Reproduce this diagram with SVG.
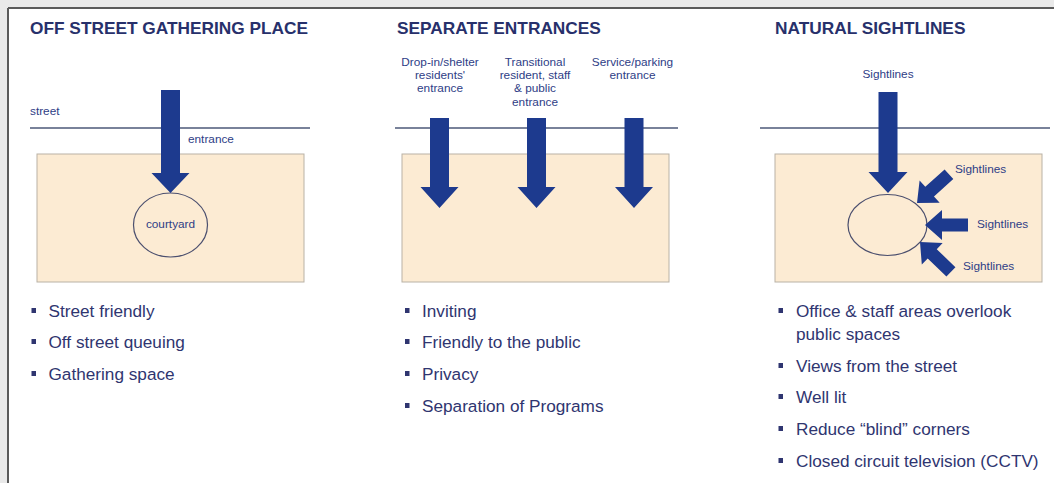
<svg xmlns="http://www.w3.org/2000/svg" width="1054" height="483" viewBox="0 0 1054 483">
<defs>
<style>
.title{font-family:"Liberation Sans",Arial,sans-serif;font-weight:bold;font-size:17.3px;fill:#27306b}
.lbl{font-family:"Liberation Sans",Arial,sans-serif;font-size:11.8px;fill:#2e3d86}
.lblc{font-family:"Liberation Sans",Arial,sans-serif;font-size:11.8px;fill:#2e3d86;text-anchor:middle}
.bul{font-family:"Liberation Sans",Arial,sans-serif;font-size:17.2px;fill:#2f3570}
.street{stroke:#4d5878;stroke-width:1.4;fill:none}
.site{fill:#fcebd3;stroke:#b9b2a6;stroke-width:1}
.arrow{fill:#1d3a8e}
.oval{fill:none;stroke:#4b4f6e;stroke-width:1.2}
.sq{fill:#2f3570}
</style>
<path id="small" d="M -43,-6.5 L -17,-6.5 L -17,-15 L 0,0 L -17,15 L -17,6.5 L -43,6.5 Z"/>
</defs>
<rect x="0" y="0" width="1054" height="483" fill="#e9e9e9"/>
<rect x="9" y="9" width="1045" height="474" fill="#ffffff"/>
<line x1="8" y1="8" x2="1054" y2="8" stroke="#5a5a5a" stroke-width="2"/>
<line x1="8" y1="8" x2="8" y2="483" stroke="#5a5a5a" stroke-width="2"/>

<g id="panel-gathering">
<text class="title" x="30" y="34">OFF STREET GATHERING PLACE</text>
<line class="street" x1="30" y1="128" x2="310" y2="128"/>
<text class="lbl" x="30" y="115">street</text>
<rect class="site" x="37" y="154" width="267" height="128"/>
<text class="lbl" x="188" y="143">entrance</text>
<ellipse class="oval" cx="170.5" cy="225" rx="37" ry="32"/>
<text class="lblc" x="170.5" y="228">courtyard</text>
<rect class="sq" x="31.5" y="308" width="4.5" height="5"/>
<text class="bul" x="48.5" y="317">Street friendly</text>
<rect class="sq" x="31.5" y="339" width="4.5" height="5"/>
<text class="bul" x="48.5" y="348">Off street queuing</text>
<rect class="sq" x="31.5" y="371" width="4.5" height="5"/>
<text class="bul" x="48.5" y="380">Gathering space</text>
</g>

<g id="panel-entrances">
<text class="title" x="397" y="34">SEPARATE ENTRANCES</text>
<text class="lblc" x="440" y="65.5">Drop-in/shelter</text>
<text class="lblc" x="440" y="79">residents'</text>
<text class="lblc" x="440" y="92">entrance</text>
<text class="lblc" x="535" y="65.5">Transitional</text>
<text class="lblc" x="535" y="79">resident, staff</text>
<text class="lblc" x="535" y="92">&amp; public</text>
<text class="lblc" x="535" y="105.5">entrance</text>
<text class="lblc" x="632.5" y="65.5">Service/parking</text>
<text class="lblc" x="632.5" y="79">entrance</text>
<line class="street" x1="395" y1="128" x2="678" y2="128"/>
<rect class="site" x="402" y="154" width="267" height="128"/>
<rect class="sq" x="405" y="308" width="4.5" height="5"/>
<text class="bul" x="422" y="317">Inviting</text>
<rect class="sq" x="405" y="339" width="4.5" height="5"/>
<text class="bul" x="422" y="348">Friendly to the public</text>
<rect class="sq" x="405" y="371" width="4.5" height="5"/>
<text class="bul" x="422" y="380">Privacy</text>
<rect class="sq" x="405" y="403" width="4.5" height="5"/>
<text class="bul" x="422" y="412">Separation of Programs</text>
</g>

<g id="panel-sightlines">
<text class="title" x="775" y="34">NATURAL SIGHTLINES</text>
<text class="lblc" x="888" y="78">Sightlines</text>
<line class="street" x1="760" y1="128" x2="1050" y2="128"/>
<rect class="site" x="775" y="154" width="267" height="128"/>
<ellipse class="oval" cx="887.5" cy="225" rx="39.5" ry="30.5"/>
<text class="lbl" x="955" y="173">Sightlines</text>
<text class="lbl" x="977" y="228">Sightlines</text>
<text class="lbl" x="963" y="270">Sightlines</text>
<rect class="sq" x="778.5" y="308" width="4.5" height="5"/>
<text class="bul" x="796" y="317">Office &amp; staff areas overlook</text>
<text class="bul" x="796" y="340">public spaces</text>
<rect class="sq" x="778.5" y="363" width="4.5" height="5"/>
<text class="bul" x="796" y="372">Views from the street</text>
<rect class="sq" x="778.5" y="394" width="4.5" height="5"/>
<text class="bul" x="796" y="403">Well lit</text>
<rect class="sq" x="778.5" y="426" width="4.5" height="5"/>
<text class="bul" x="796" y="435">Reduce “blind” corners</text>
<rect class="sq" x="778.5" y="458" width="4.5" height="5"/>
<text class="bul" x="796" y="467">Closed circuit television (CCTV)</text>
</g>

<g id="connectors" class="arrow">
<path d="M 161,90 L 180,90 L 180,173 L 189.5,173 L 170.5,193 L 151.5,173 L 161,173 Z"/>
<path d="M 430,118 L 449,118 L 449,187 L 458.5,187 L 439.5,208 L 420.5,187 L 430,187 Z"/>
<path d="M 527,118 L 546,118 L 546,187 L 555.5,187 L 536.5,208 L 517.5,187 L 527,187 Z"/>
<path d="M 624.5,118 L 643.5,118 L 643.5,187 L 653,187 L 634,208 L 615,187 L 624.5,187 Z"/>
<path d="M 878.5,92 L 897.5,92 L 897.5,172 L 907.5,172 L 888,193 L 868.5,172 L 878.5,172 Z"/>
<use href="#small" transform="translate(917,203) rotate(138)"/>
<use href="#small" transform="translate(925,225) rotate(180)"/>
<use href="#small" transform="translate(920,242) rotate(224)"/>
</g>
</svg>
